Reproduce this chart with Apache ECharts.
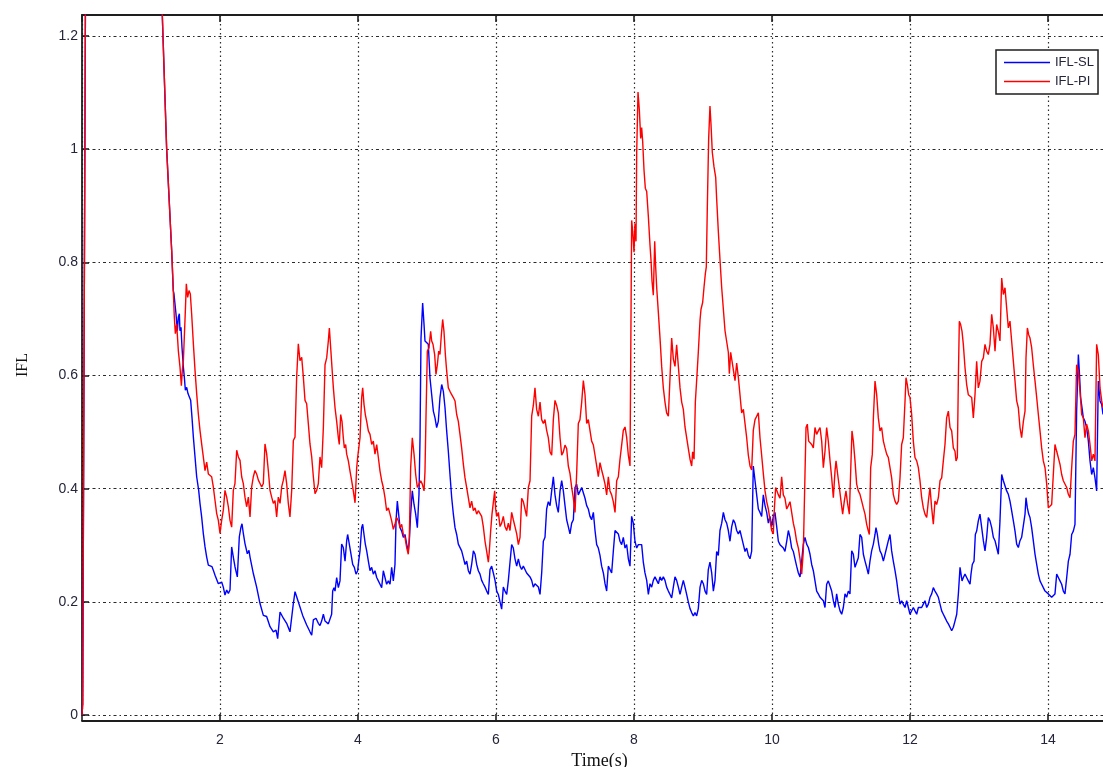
<!DOCTYPE html>
<html>
<head>
<meta charset="utf-8">
<title>IFL</title>
<script src="https://cdn.jsdelivr.net/npm/echarts@6/dist/echarts.min.js"></script>
<style>
  html, body { margin: 0; padding: 0; background: #fff; }
  #main { width: 1103px; height: 767px; }
</style>
</head>
<body>
<div id="main"></div>
<script>
// Tick values shown on the axes
const xTicks = [2, 4, 6, 8, 10, 12, 14];
const yTicks = [0, 0.2, 0.4, 0.6, 0.8, 1, 1.2];

// IFL-SL response: [time (s), IFL]
const slPoints = [
  [0,0],[0.01,0.02],[0.08,2.2],[0.3,2.9],[0.7,2.4],[1.0,1.85],[1.227,1.0],[1.30,0.82],[1.323,0.75],
  [1.333,0.744],[1.362,0.709],[1.382,0.679],[1.396,0.703],[1.411,0.709],[1.420,0.679],[1.435,0.685],[1.449,0.650],
  [1.469,0.615],[1.483,0.597],[1.498,0.574],[1.517,0.579],[1.536,0.568],[1.556,0.562],[1.575,0.556],[1.594,0.526],
  [1.614,0.491],[1.638,0.456],[1.662,0.421],[1.691,0.397],[1.710,0.374],[1.734,0.350],[1.758,0.321],[1.783,0.297],
  [1.807,0.279],[1.831,0.265],[1.855,0.262],[1.884,0.262],[1.903,0.256],[1.928,0.247],[1.952,0.247],[1.976,0.232],
  [2.000,0.235],[2.024,0.235],[2.048,0.226],[2.072,0.212],[2.097,0.221],[2.121,0.215],[2.145,0.221],[2.169,0.297],
  [2.193,0.279],[2.217,0.262],[2.251,0.244],[2.280,0.315],[2.304,0.332],[2.319,0.338],[2.338,0.321],[2.362,0.303],
  [2.396,0.285],[2.420,0.291],[2.435,0.279],[2.483,0.250],[2.531,0.226],[2.580,0.197],[2.628,0.176],[2.676,0.174],
  [2.725,0.156],[2.773,0.147],[2.812,0.150],[2.836,0.135],[2.870,0.182],[2.894,0.179],[2.918,0.171],[2.966,0.162],
  [3.014,0.147],[3.063,0.197],[3.087,0.218],[3.111,0.209],[3.159,0.191],[3.198,0.176],[3.256,0.159],[3.304,0.147],
  [3.329,0.141],[3.353,0.168],[3.391,0.171],[3.425,0.162],[3.449,0.158],[3.473,0.166],[3.498,0.178],[3.522,0.166],
  [3.546,0.164],[3.570,0.161],[3.594,0.161],[3.618,0.178],[3.633,0.219],[3.652,0.225],[3.667,0.219],[3.691,0.243],
  [3.715,0.225],[3.739,0.237],[3.763,0.302],[3.787,0.296],[3.812,0.272],[3.836,0.308],[3.850,0.319],[3.874,0.302],
  [3.899,0.284],[3.923,0.266],[3.947,0.261],[3.971,0.249],[3.995,0.255],[4.010,0.272],[4.029,0.290],[4.053,0.331],
  [4.068,0.337],[4.087,0.319],[4.106,0.302],[4.126,0.290],[4.150,0.272],[4.174,0.255],[4.198,0.261],[4.222,0.249],
  [4.246,0.255],[4.271,0.243],[4.295,0.237],[4.319,0.231],[4.343,0.225],[4.367,0.255],[4.391,0.243],[4.415,0.231],
  [4.440,0.237],[4.464,0.231],[4.488,0.261],[4.512,0.237],[4.536,0.266],[4.551,0.343],[4.570,0.378],[4.589,0.355],
  [4.609,0.331],[4.633,0.325],[4.657,0.314],[4.681,0.319],[4.705,0.302],[4.729,0.290],[4.744,0.308],[4.763,0.355],
  [4.787,0.396],[4.812,0.372],[4.836,0.355],[4.860,0.331],[4.884,0.390],[4.899,0.490],[4.913,0.666],[4.937,0.728],
  [4.957,0.690],[4.971,0.661],[4.995,0.664],[5.019,0.655],[5.043,0.596],[5.068,0.566],[5.092,0.537],[5.116,0.525],
  [5.140,0.508],[5.164,0.519],[5.188,0.561],[5.213,0.584],[5.237,0.572],[5.261,0.543],[5.285,0.502],[5.309,0.466],
  [5.333,0.425],[5.358,0.384],[5.382,0.355],[5.406,0.331],[5.430,0.319],[5.454,0.302],[5.478,0.302],[5.502,0.290],
  [5.527,0.278],[5.551,0.266],[5.575,0.272],[5.599,0.255],[5.623,0.249],[5.647,0.266],[5.672,0.290],[5.696,0.284],
  [5.720,0.266],[5.744,0.255],[5.768,0.249],[5.792,0.238],[5.816,0.232],[5.841,0.226],[5.865,0.219],[5.889,0.213],
  [5.913,0.257],[5.937,0.263],[5.961,0.251],[5.986,0.238],[6.010,0.219],[6.034,0.213],[6.058,0.200],[6.082,0.187],
  [6.106,0.226],[6.130,0.219],[6.155,0.213],[6.179,0.238],[6.203,0.270],[6.227,0.301],[6.251,0.295],[6.275,0.276],
  [6.300,0.263],[6.324,0.276],[6.348,0.263],[6.372,0.257],[6.396,0.263],[6.420,0.257],[6.444,0.251],[6.469,0.251],
  [6.493,0.244],[6.517,0.238],[6.541,0.226],[6.565,0.232],[6.589,0.232],[6.614,0.226],[6.638,0.213],[6.662,0.251],
  [6.686,0.307],[6.710,0.314],[6.734,0.364],[6.758,0.377],[6.783,0.370],[6.807,0.396],[6.831,0.421],[6.855,0.389],
  [6.879,0.370],[6.903,0.358],[6.928,0.396],[6.952,0.414],[6.976,0.396],[7.000,0.370],[7.024,0.345],[7.048,0.333],
  [7.072,0.320],[7.097,0.339],[7.121,0.345],[7.145,0.402],[7.169,0.408],[7.193,0.389],[7.217,0.389],[7.242,0.402],
  [7.266,0.402],[7.290,0.383],[7.314,0.370],[7.338,0.364],[7.362,0.351],[7.386,0.345],[7.411,0.358],[7.435,0.326],
  [7.459,0.301],[7.483,0.295],[7.507,0.282],[7.531,0.263],[7.556,0.251],[7.580,0.232],[7.604,0.219],[7.628,0.263],
  [7.652,0.257],[7.676,0.251],[7.700,0.289],[7.725,0.326],[7.749,0.326],[7.773,0.320],[7.797,0.307],[7.821,0.301],
  [7.845,0.314],[7.870,0.295],[7.894,0.301],[7.918,0.276],[7.942,0.263],[7.966,0.351],[7.990,0.339],[8.014,0.307],
  [8.039,0.295],[8.063,0.301],[8.087,0.301],[8.111,0.301],[8.135,0.270],[8.159,0.251],[8.184,0.238],[8.208,0.213],
  [8.232,0.232],[8.256,0.226],[8.280,0.238],[8.304,0.244],[8.329,0.238],[8.353,0.232],[8.377,0.244],[8.401,0.238],
  [8.425,0.244],[8.449,0.238],[8.473,0.226],[8.498,0.219],[8.522,0.213],[8.546,0.207],[8.570,0.226],[8.594,0.244],
  [8.618,0.238],[8.643,0.226],[8.667,0.213],[8.691,0.226],[8.715,0.238],[8.739,0.226],[8.763,0.213],[8.787,0.200],
  [8.812,0.188],[8.836,0.181],[8.860,0.175],[8.884,0.181],[8.908,0.175],[8.932,0.188],[8.957,0.226],[8.981,0.238],
  [9.005,0.232],[9.029,0.219],[9.053,0.213],[9.077,0.257],[9.101,0.270],[9.126,0.251],[9.150,0.219],[9.174,0.238],
  [9.198,0.289],[9.222,0.282],[9.246,0.326],[9.271,0.339],[9.295,0.358],[9.319,0.345],[9.343,0.339],[9.367,0.326],
  [9.391,0.307],[9.416,0.333],[9.440,0.345],[9.464,0.339],[9.488,0.326],[9.512,0.320],[9.536,0.326],[9.560,0.314],
  [9.585,0.301],[9.609,0.289],[9.633,0.295],[9.657,0.282],[9.681,0.276],[9.705,0.289],[9.729,0.440],[9.754,0.414],
  [9.778,0.389],[9.802,0.364],[9.826,0.358],[9.850,0.351],[9.874,0.389],[9.899,0.370],[9.923,0.358],[9.947,0.339],
  [9.971,0.351],[9.995,0.333],[10.019,0.351],[10.043,0.358],[10.068,0.333],[10.092,0.307],[10.116,0.301],[10.140,0.301],
  [10.164,0.295],[10.188,0.289],[10.213,0.307],[10.237,0.326],[10.261,0.314],[10.285,0.295],[10.309,0.289],[10.333,0.276],
  [10.357,0.263],[10.382,0.251],[10.406,0.244],[10.430,0.272],[10.454,0.302],[10.478,0.314],[10.502,0.302],[10.527,0.296],
  [10.551,0.284],[10.575,0.266],[10.599,0.255],[10.623,0.237],[10.647,0.219],[10.671,0.214],[10.696,0.208],[10.720,0.208],
  [10.744,0.202],[10.768,0.190],[10.792,0.231],[10.816,0.237],[10.841,0.228],[10.865,0.219],[10.889,0.202],[10.913,0.190],
  [10.937,0.214],[10.961,0.196],[10.986,0.184],[11.010,0.178],[11.034,0.190],[11.058,0.214],[11.082,0.208],[11.106,0.219],
  [11.130,0.214],[11.155,0.290],[11.179,0.284],[11.203,0.261],[11.227,0.261],[11.251,0.278],[11.275,0.319],[11.300,0.314],
  [11.324,0.284],[11.348,0.272],[11.372,0.261],[11.396,0.249],[11.420,0.272],[11.444,0.290],[11.469,0.302],[11.493,0.319],
  [11.507,0.331],[11.527,0.319],[11.546,0.302],[11.565,0.290],[11.589,0.284],[11.614,0.272],[11.638,0.272],[11.662,0.296],
  [11.686,0.308],[11.710,0.319],[11.734,0.290],[11.758,0.272],[11.783,0.255],[11.807,0.237],[11.831,0.214],[11.855,0.196],
  [11.879,0.202],[11.903,0.196],[11.928,0.190],[11.952,0.202],[11.976,0.190],[12.000,0.178],[12.024,0.178],[12.048,0.190],
  [12.072,0.184],[12.097,0.178],[12.121,0.190],[12.145,0.190],[12.169,0.190],[12.193,0.196],[12.217,0.202],[12.242,0.190],
  [12.266,0.196],[12.290,0.208],[12.314,0.214],[12.338,0.225],[12.362,0.219],[12.386,0.214],[12.411,0.208],[12.435,0.196],
  [12.459,0.184],[12.483,0.178],[12.507,0.172],[12.531,0.166],[12.556,0.161],[12.580,0.155],[12.604,0.149],[12.628,0.155],
  [12.652,0.166],[12.677,0.178],[12.701,0.214],[12.725,0.261],[12.754,0.237],[12.773,0.243],[12.797,0.249],[12.821,0.243],
  [12.845,0.237],[12.870,0.231],[12.884,0.249],[12.903,0.266],[12.928,0.272],[12.947,0.319],[12.966,0.325],[12.990,0.343],
  [13.014,0.355],[13.039,0.331],[13.063,0.308],[13.087,0.290],[13.111,0.314],[13.135,0.349],[13.159,0.343],[13.184,0.331],
  [13.208,0.314],[13.232,0.308],[13.256,0.296],[13.280,0.284],[13.304,0.343],[13.329,0.425],[13.353,0.414],[13.377,0.414],
  [13.401,0.396],[13.425,0.390],[13.449,0.378],[13.473,0.361],[13.498,0.343],[13.522,0.325],[13.546,0.302],[13.570,0.296],
  [13.594,0.308],[13.618,0.314],[13.643,0.314],[13.667,0.355],[13.681,0.384],[13.701,0.366],[13.720,0.355],[13.739,0.349],
  [13.763,0.331],[13.787,0.308],[13.812,0.284],[13.836,0.266],[13.860,0.249],[13.884,0.237],[13.908,0.231],[13.932,0.225],
  [13.957,0.219],[13.981,0.219],[14.005,0.214],[14.029,0.211],[14.053,0.208],[14.077,0.205],[14.101,0.214],[14.126,0.249],
  [14.150,0.243],[14.174,0.237],[14.198,0.231],[14.222,0.219],[14.246,0.214],[14.271,0.243],[14.295,0.272],[14.319,0.284],
  [14.343,0.319],[14.367,0.325],[14.391,0.337],[14.415,0.537],[14.440,0.637],[14.454,0.608],[14.473,0.561],[14.493,0.543],
  [14.512,0.525],[14.536,0.519],[14.560,0.508],[14.585,0.484],[14.609,0.449],[14.633,0.425],[14.657,0.437],[14.681,0.419],
  [14.705,0.396],[14.729,0.590],[14.754,0.555],[14.778,0.549],[14.797,0.531]
];

// IFL-PI response: [time (s), IFL]
const piPoints = [
  [0,0],[0.01,0.02],[0.08,2.2],[0.3,2.9],[0.7,2.4],[1.0,1.85],[1.227,1.0],[1.30,0.82],[1.323,0.75],
  [1.338,0.703],[1.353,0.674],[1.372,0.691],[1.396,0.644],[1.420,0.615],[1.440,0.582],[1.454,0.609],[1.469,0.626],
  [1.483,0.668],[1.498,0.715],[1.512,0.762],[1.531,0.738],[1.551,0.750],[1.570,0.744],[1.589,0.709],[1.614,0.656],
  [1.638,0.609],[1.662,0.568],[1.686,0.532],[1.710,0.503],[1.734,0.479],[1.758,0.456],[1.783,0.432],[1.807,0.447],
  [1.831,0.426],[1.855,0.429],[1.879,0.421],[1.903,0.403],[1.928,0.379],[1.952,0.356],[1.976,0.344],[2.000,0.321],
  [2.024,0.344],[2.048,0.362],[2.072,0.397],[2.097,0.385],[2.121,0.368],[2.145,0.344],[2.169,0.332],[2.193,0.397],
  [2.217,0.409],[2.242,0.468],[2.266,0.456],[2.290,0.450],[2.314,0.421],[2.338,0.409],[2.362,0.385],[2.386,0.368],
  [2.411,0.385],[2.435,0.350],[2.459,0.403],[2.483,0.421],[2.507,0.432],[2.531,0.426],[2.556,0.415],[2.580,0.409],
  [2.604,0.403],[2.628,0.409],[2.652,0.479],[2.676,0.462],[2.700,0.432],[2.725,0.397],[2.749,0.385],[2.773,0.374],
  [2.797,0.379],[2.821,0.350],[2.845,0.385],[2.870,0.374],[2.894,0.403],[2.918,0.415],[2.942,0.432],[2.966,0.409],
  [2.990,0.374],[3.014,0.350],[3.039,0.397],[3.063,0.485],[3.087,0.491],[3.111,0.597],[3.135,0.656],[3.159,0.626],
  [3.184,0.632],[3.208,0.597],[3.232,0.556],[3.256,0.550],[3.280,0.515],[3.304,0.479],[3.329,0.456],[3.353,0.421],
  [3.377,0.391],[3.401,0.397],[3.425,0.409],[3.449,0.456],[3.473,0.437],[3.498,0.508],[3.522,0.619],[3.546,0.631],
  [3.570,0.661],[3.585,0.684],[3.604,0.649],[3.623,0.614],[3.643,0.578],[3.667,0.543],[3.691,0.519],[3.715,0.490],
  [3.729,0.478],[3.749,0.531],[3.768,0.519],[3.787,0.490],[3.802,0.472],[3.821,0.478],[3.836,0.461],[3.860,0.449],
  [3.884,0.431],[3.908,0.414],[3.932,0.396],[3.957,0.375],[3.981,0.437],[3.995,0.455],[4.010,0.455],[4.029,0.490],
  [4.053,0.561],[4.068,0.578],[4.087,0.549],[4.106,0.531],[4.126,0.519],[4.150,0.502],[4.174,0.496],[4.198,0.478],
  [4.222,0.484],[4.246,0.461],[4.271,0.478],[4.295,0.455],[4.319,0.431],[4.343,0.414],[4.367,0.402],[4.391,0.384],
  [4.415,0.361],[4.440,0.366],[4.464,0.355],[4.488,0.343],[4.512,0.328],[4.536,0.337],[4.560,0.349],[4.585,0.343],
  [4.609,0.331],[4.633,0.337],[4.657,0.319],[4.681,0.314],[4.705,0.296],[4.729,0.284],[4.744,0.314],[4.763,0.437],
  [4.787,0.490],[4.812,0.461],[4.836,0.425],[4.860,0.402],[4.884,0.408],[4.908,0.414],[4.932,0.408],[4.957,0.396],
  [4.971,0.431],[4.986,0.531],[5.005,0.643],[5.029,0.649],[5.053,0.678],[5.068,0.661],[5.087,0.655],[5.111,0.637],
  [5.130,0.602],[5.150,0.619],[5.169,0.643],[5.188,0.637],[5.208,0.672],[5.227,0.699],[5.246,0.678],[5.266,0.637],
  [5.285,0.608],[5.309,0.578],[5.333,0.572],[5.358,0.566],[5.382,0.561],[5.406,0.555],[5.430,0.531],[5.454,0.519],
  [5.478,0.496],[5.502,0.472],[5.527,0.443],[5.551,0.419],[5.575,0.402],[5.599,0.384],[5.623,0.366],[5.647,0.378],
  [5.672,0.361],[5.696,0.366],[5.720,0.355],[5.744,0.361],[5.768,0.361],[5.792,0.351],[5.816,0.333],[5.841,0.307],
  [5.865,0.289],[5.889,0.270],[5.903,0.289],[5.923,0.326],[5.942,0.355],[5.961,0.358],[5.981,0.396],[5.995,0.364],
  [6.010,0.351],[6.034,0.358],[6.058,0.333],[6.082,0.339],[6.106,0.351],[6.130,0.333],[6.155,0.326],[6.179,0.339],
  [6.203,0.326],[6.227,0.358],[6.251,0.345],[6.275,0.333],[6.300,0.320],[6.324,0.301],[6.348,0.314],[6.372,0.383],
  [6.396,0.377],[6.420,0.364],[6.444,0.351],[6.469,0.402],[6.493,0.414],[6.517,0.528],[6.541,0.547],[6.565,0.578],
  [6.589,0.540],[6.614,0.528],[6.638,0.553],[6.662,0.522],[6.686,0.515],[6.710,0.522],[6.734,0.503],[6.758,0.490],
  [6.783,0.465],[6.807,0.459],[6.831,0.522],[6.855,0.556],[6.879,0.547],[6.903,0.534],[6.928,0.490],[6.952,0.459],
  [6.976,0.465],[7.000,0.477],[7.024,0.471],[7.048,0.440],[7.072,0.427],[7.097,0.402],[7.121,0.383],[7.145,0.358],
  [7.169,0.427],[7.193,0.515],[7.217,0.522],[7.242,0.553],[7.266,0.591],[7.290,0.566],[7.314,0.515],[7.338,0.522],
  [7.362,0.503],[7.386,0.484],[7.411,0.477],[7.435,0.459],[7.459,0.440],[7.483,0.421],[7.507,0.446],[7.531,0.433],
  [7.556,0.421],[7.580,0.408],[7.604,0.389],[7.628,0.421],[7.652,0.396],[7.676,0.389],[7.700,0.377],[7.725,0.358],
  [7.749,0.414],[7.773,0.421],[7.797,0.452],[7.821,0.477],[7.845,0.503],[7.870,0.509],[7.894,0.490],[7.918,0.459],
  [7.942,0.440],[7.966,0.874],[7.981,0.855],[8.000,0.818],[8.014,0.868],[8.029,0.837],[8.039,0.994],[8.058,1.101],
  [8.077,1.070],[8.097,1.019],[8.111,1.038],[8.126,1.013],[8.145,0.963],[8.164,0.931],[8.184,0.925],[8.208,0.881],
  [8.232,0.830],[8.246,0.805],[8.261,0.767],[8.280,0.742],[8.300,0.837],[8.314,0.792],[8.329,0.755],[8.353,0.711],
  [8.377,0.666],[8.401,0.616],[8.425,0.578],[8.449,0.553],[8.473,0.534],[8.498,0.528],[8.522,0.528],[8.546,0.666],
  [8.570,0.629],[8.594,0.616],[8.618,0.654],[8.643,0.616],[8.667,0.578],[8.691,0.553],[8.715,0.540],[8.739,0.509],
  [8.763,0.490],[8.787,0.471],[8.812,0.452],[8.836,0.440],[8.850,0.465],[8.870,0.452],[8.889,0.553],[8.908,0.591],
  [8.932,0.641],[8.957,0.698],[8.971,0.717],[8.995,0.729],[9.014,0.755],[9.034,0.780],[9.048,0.792],[9.063,0.900],
  [9.082,1.019],[9.101,1.076],[9.116,1.044],[9.135,0.994],[9.159,0.969],[9.184,0.950],[9.198,0.912],[9.222,0.855],
  [9.246,0.805],[9.271,0.755],[9.295,0.717],[9.319,0.679],[9.343,0.660],[9.367,0.641],[9.382,0.603],[9.401,0.641],
  [9.420,0.641],[9.440,0.610],[9.464,0.591],[9.488,0.622],[9.512,0.597],[9.536,0.566],[9.560,0.534],[9.585,0.540],
  [9.609,0.515],[9.633,0.490],[9.657,0.459],[9.681,0.440],[9.705,0.433],[9.729,0.503],[9.754,0.522],[9.778,0.528],
  [9.802,0.534],[9.826,0.490],[9.850,0.459],[9.874,0.427],[9.899,0.396],[9.923,0.377],[9.947,0.364],[9.971,0.345],
  [9.995,0.326],[10.019,0.320],[10.034,0.364],[10.053,0.402],[10.072,0.396],[10.092,0.389],[10.116,0.383],[10.140,0.421],
  [10.164,0.389],[10.188,0.383],[10.213,0.364],[10.237,0.370],[10.261,0.377],[10.285,0.358],[10.309,0.339],[10.333,0.326],
  [10.357,0.307],[10.382,0.295],[10.406,0.276],[10.430,0.249],[10.454,0.290],[10.478,0.425],[10.493,0.508],[10.512,0.514],
  [10.531,0.484],[10.551,0.484],[10.575,0.478],[10.599,0.472],[10.623,0.508],[10.647,0.496],[10.671,0.502],[10.696,0.508],
  [10.720,0.484],[10.744,0.437],[10.768,0.466],[10.792,0.508],[10.816,0.484],[10.841,0.449],[10.865,0.419],[10.889,0.384],
  [10.913,0.431],[10.928,0.449],[10.952,0.425],[10.976,0.402],[11.000,0.378],[11.024,0.355],[11.048,0.378],[11.072,0.396],
  [11.097,0.372],[11.121,0.355],[11.145,0.449],[11.159,0.502],[11.179,0.484],[11.203,0.449],[11.227,0.408],[11.251,0.396],
  [11.275,0.390],[11.300,0.378],[11.324,0.366],[11.348,0.355],[11.372,0.337],[11.396,0.325],[11.411,0.319],[11.430,0.437],
  [11.454,0.461],[11.469,0.525],[11.493,0.590],[11.517,0.566],[11.541,0.525],[11.565,0.502],[11.589,0.508],[11.614,0.484],
  [11.638,0.472],[11.662,0.461],[11.686,0.455],[11.710,0.437],[11.734,0.419],[11.758,0.390],[11.783,0.378],[11.807,0.372],
  [11.831,0.378],[11.855,0.419],[11.879,0.478],[11.903,0.490],[11.928,0.555],[11.942,0.596],[11.961,0.584],[11.981,0.566],
  [12.000,0.561],[12.024,0.531],[12.048,0.484],[12.072,0.455],[12.097,0.449],[12.121,0.437],[12.145,0.414],[12.169,0.384],
  [12.193,0.366],[12.217,0.355],[12.242,0.349],[12.266,0.378],[12.290,0.402],[12.314,0.366],[12.338,0.337],[12.362,0.378],
  [12.386,0.372],[12.411,0.384],[12.435,0.414],[12.459,0.419],[12.483,0.449],[12.507,0.478],[12.531,0.525],[12.556,0.537],
  [12.580,0.508],[12.604,0.502],[12.628,0.472],[12.652,0.466],[12.667,0.449],[12.686,0.455],[12.701,0.596],[12.715,0.696],
  [12.734,0.690],[12.754,0.678],[12.773,0.655],[12.797,0.614],[12.821,0.584],[12.845,0.566],[12.870,0.566],[12.894,0.561],
  [12.918,0.525],[12.942,0.566],[12.966,0.625],[12.990,0.578],[13.014,0.590],[13.039,0.625],[13.063,0.631],[13.087,0.655],
  [13.111,0.643],[13.135,0.637],[13.159,0.655],[13.184,0.708],[13.208,0.684],[13.232,0.643],[13.256,0.690],[13.280,0.678],
  [13.304,0.661],[13.329,0.772],[13.353,0.743],[13.377,0.755],[13.401,0.719],[13.425,0.684],[13.449,0.696],[13.473,0.661],
  [13.498,0.625],[13.522,0.590],[13.546,0.555],[13.570,0.543],[13.594,0.508],[13.618,0.490],[13.643,0.519],[13.667,0.537],
  [13.681,0.631],[13.701,0.684],[13.720,0.672],[13.739,0.666],[13.763,0.649],[13.787,0.619],[13.812,0.590],[13.836,0.561],
  [13.860,0.531],[13.884,0.502],[13.908,0.472],[13.932,0.449],[13.957,0.437],[13.981,0.408],[14.005,0.366],[14.029,0.366],
  [14.053,0.372],[14.077,0.425],[14.101,0.478],[14.126,0.466],[14.150,0.466],[14.174,0.443],[14.198,0.425],[14.222,0.414],
  [14.246,0.414],[14.271,0.402],[14.295,0.390],[14.319,0.384],[14.343,0.437],[14.367,0.484],[14.391,0.496],[14.415,0.619],
  [14.440,0.608],[14.464,0.572],[14.488,0.531],[14.512,0.525],[14.536,0.490],[14.560,0.514],[14.585,0.502],[14.609,0.478],
  [14.633,0.449],[14.657,0.461],[14.681,0.449],[14.705,0.655],[14.729,0.637],[14.754,0.578],[14.778,0.555],[14.797,0.543]
];

const seriesNames = ['IFL-SL', 'IFL-PI'];
const seriesColors = ['#0000ff', '#ff0000'];

const axisColor = '#1e1e1e';
const labelColor = '#25253a';

function isTick(v, list) {
  return list.some(t => Math.abs(t - v) < 1e-6);
}

const chart = echarts.init(document.getElementById('main'), null, { renderer: 'canvas' });

chart.setOption({
  animation: false,
  backgroundColor: '#ffffff',
  // The axes run to t = 15 s; the right end of the frame lies past the canvas edge.
  grid: { left: 82, right: -14, top: 15, bottom: 52, containLabel: false, outerBoundsMode: 'none' },
  legend: {
    data: seriesNames,
    orient: 'vertical',
    left: 996,
    top: 50,
    backgroundColor: '#ffffff',
    borderColor: axisColor,
    borderWidth: 1.5,
    borderRadius: 0,
    padding: [6, 4, 6, 8],
    itemGap: 6,
    itemWidth: 46,
    itemHeight: 14,
    icon: 'path://M0,0H46V1.5H0Z',
    textStyle: { fontFamily: 'Liberation Sans', fontSize: 13, color: labelColor }
  },
  xAxis: [
    {
      type: 'value',
      min: 0,
      max: 15,
      interval: 2,
      position: 'bottom',
      offset: 6,
      name: 'Time(s)',
      nameLocation: 'middle',
      nameGap: 24,
      nameTextStyle: { fontFamily: 'Liberation Serif', fontSize: 18, color: '#111' },
      axisLine: { show: true, onZero: false, lineStyle: { color: axisColor, width: 1.8 } },
      axisTick: { show: true, inside: true, length: 7, lineStyle: { color: axisColor, width: 1.6 } },
      axisLabel: {
        margin: 12,
        fontFamily: 'Liberation Sans',
        fontSize: 14,
        color: labelColor,
        formatter: v => (isTick(v, xTicks) ? String(v) : '')
      },
      splitLine: { show: true, lineStyle: { color: '#2a2a2a', width: 1.2, type: [1.5, 3] } }
    },
    {
      type: 'value',
      min: 0,
      max: 15,
      interval: 2,
      position: 'top',
      axisLine: { show: true, onZero: false, lineStyle: { color: axisColor, width: 1.8 } },
      axisTick: { show: true, inside: true, length: 7, lineStyle: { color: axisColor, width: 1.6 } },
      axisLabel: { show: false },
      splitLine: { show: false }
    }
  ],
  yAxis: {
    type: 'value',
    min: 0,
    max: 1.237,
    interval: 0.2,
    name: 'IFL',
    nameLocation: 'middle',
    nameGap: 51,
    nameTextStyle: { fontFamily: 'Liberation Serif', fontSize: 16, color: '#111' },
    axisLine: { show: true, onZero: false, lineStyle: { color: axisColor, width: 1.8 } },
    axisTick: { show: true, inside: true, length: 7, lineStyle: { color: axisColor, width: 1.6 } },
    axisLabel: {
      margin: 4,
      fontFamily: 'Liberation Sans',
      fontSize: 14,
      color: labelColor,
      formatter: v => (isTick(v, yTicks) ? String(Math.round(v * 10) / 10) : '')
    },
    splitLine: { show: true, lineStyle: { color: '#2a2a2a', width: 1.2, type: [3, 3, 1.5, 3] } }
  },
  series: [
    {
      name: seriesNames[0],
      type: 'line',
      xAxisIndex: 0,
      data: slPoints,
      symbol: 'none',
      clip: true,
      lineStyle: { color: seriesColors[0], width: 1.4 },
      itemStyle: { color: seriesColors[0] }
    },
    {
      name: seriesNames[1],
      type: 'line',
      xAxisIndex: 0,
      data: piPoints,
      symbol: 'none',
      clip: true,
      lineStyle: { color: seriesColors[1], width: 1.4 },
      itemStyle: { color: seriesColors[1] }
    }
  ]
});
</script>
</body>
</html>
